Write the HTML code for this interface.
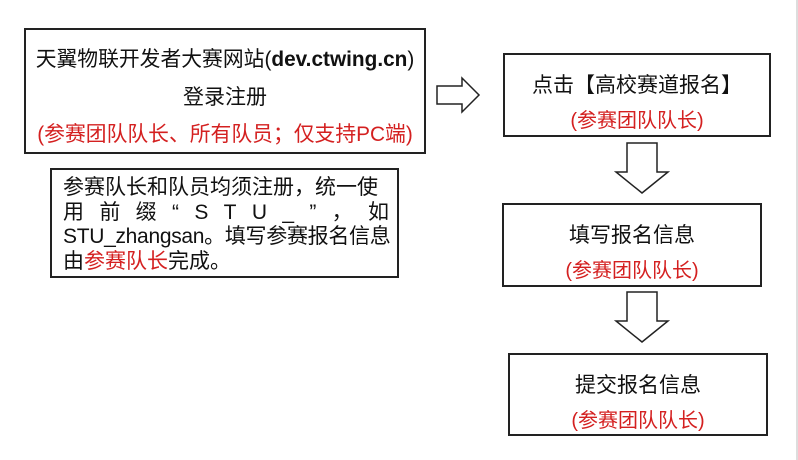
<!DOCTYPE html>
<html><head><meta charset="utf-8"><style>
body{margin:0;width:798px;height:460px;background:#fff;position:relative;overflow:hidden;font-family:"Liberation Sans","Noto Sans CJK SC",sans-serif;color:#111}
.b{position:absolute;border:2px solid #222;box-sizing:border-box}
.t{position:absolute;left:0;right:0;text-align:center;white-space:nowrap}
.r{color:#d42020}
.ln{display:block;white-space:nowrap;height:24.5px}
</style></head><body>
<div class="b" style="left:24px;top:28px;width:402px;height:126px">
 <div class="t" style="top:12px;font-size:20.8px">天翼物联开发者大赛网站(<b>dev.ctwing.cn</b>)</div>
 <div class="t" style="top:51px;font-size:21px">登录注册</div>
 <div class="t r" style="top:87px;font-size:20.8px">(参赛团队队长、所有队员；仅支持PC端)</div>
</div>
<div class="b" style="left:50px;top:168px;width:349px;height:110px">
 <div style="position:absolute;left:11px;top:6px;width:326px;font-size:21px;line-height:24.5px">
 <span class="ln">参赛队长和队员均须注册，统一使</span>
 <span class="ln" style="display:flex;justify-content:space-between"><span>用</span><span>前</span><span>缀</span><span>“</span><span>S</span><span>T</span><span>U</span><span>_</span><span>”</span><span>，</span><span>如</span></span>
 <span class="ln" style="letter-spacing:-0.3px">STU_zhangsan。填写参赛报名信息</span>
 <span class="ln">由<span class="r">参赛队长</span>完成。</span>
 </div>
</div>
<svg style="position:absolute;left:0;top:0" width="798" height="460">
 <polygon points="437,86 462,86 462,78 479,95 462,112 462,104 437,104" fill="#fff" stroke="#222" stroke-width="1.5"/>
 <polygon points="627,143 657,143 657,172 668,172 642,193 616,172 627,172" fill="#fff" stroke="#222" stroke-width="1.5"/>
 <polygon points="627,292 657,292 657,321 668,321 642,342 616,321 627,321" fill="#fff" stroke="#222" stroke-width="1.5"/>
 <line x1="797" y1="0" x2="797" y2="460" stroke="#bbb"/>
</svg>
<div class="b" style="left:503px;top:53px;width:268px;height:84px">
 <div class="t" style="top:14px;font-size:21px">点击【高校赛道报名】</div>
 <div class="t r" style="top:49px;font-size:20px">(参赛团队队长)</div>
</div>
<div class="b" style="left:502px;top:203px;width:260px;height:84px">
 <div class="t" style="top:14px;font-size:21px">填写报名信息</div>
 <div class="t r" style="top:49px;font-size:20px">(参赛团队队长)</div>
</div>
<div class="b" style="left:508px;top:353px;width:260px;height:83px">
 <div class="t" style="top:14px;font-size:21px">提交报名信息</div>
 <div class="t r" style="top:49px;font-size:20px">(参赛团队队长)</div>
</div>
</body></html>
